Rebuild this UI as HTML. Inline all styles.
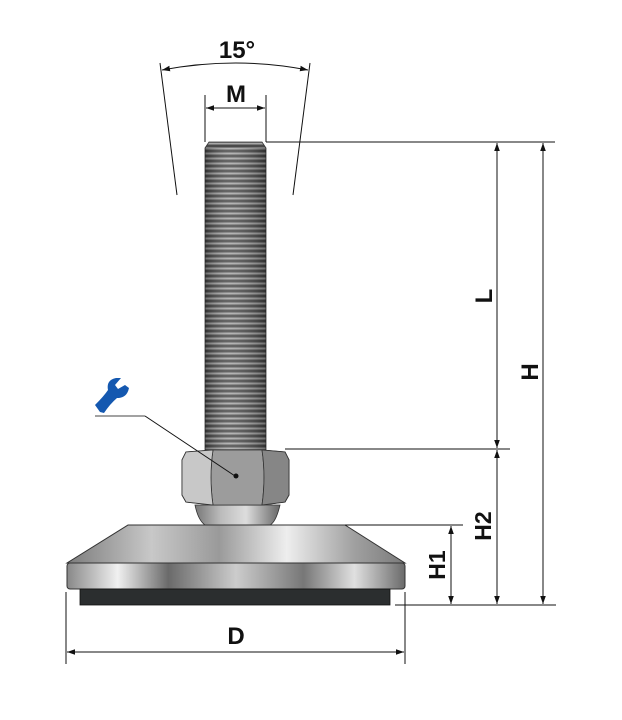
<!DOCTYPE html>
<html><head><meta charset="utf-8"><style>
html,body{margin:0;padding:0;background:#fff;}
svg{display:block;}
text{font-family:"Liberation Sans",sans-serif;font-weight:bold;fill:#111;}
</style></head><body>
<svg width="622" height="720" viewBox="0 0 622 720" xmlns="http://www.w3.org/2000/svg">
<defs>
<marker id="a" viewBox="0 0 10 10" refX="10" refY="5" markerWidth="8" markerHeight="8" orient="auto-start-reverse" markerUnits="userSpaceOnUse"><path d="M0,1.5 L10,5 L0,8.5 z" fill="#111"/></marker>
<pattern id="thr" width="8" height="5" patternUnits="userSpaceOnUse"><rect width="8" height="5" fill="#7a7a7a"/><rect y="0" width="8" height="2" fill="#4a4a4a"/><rect y="3" width="8" height="1" fill="#a8a8a8"/></pattern>
<linearGradient id="shade" x1="0" x2="1"><stop offset="0" stop-color="#777"/><stop offset="0.3" stop-color="#bbb"/><stop offset="0.6" stop-color="#ddd"/><stop offset="1" stop-color="#666"/></linearGradient>
<linearGradient id="plate" x1="0" x2="1"><stop offset="0" stop-color="#7c7c7c"/><stop offset="0.25" stop-color="#c8c8c8"/><stop offset="0.45" stop-color="#9a9a9a"/><stop offset="0.65" stop-color="#eeeeee"/><stop offset="0.85" stop-color="#a0a0a0"/><stop offset="1" stop-color="#7a7a7a"/></linearGradient>
<linearGradient id="rim" x1="0" x2="1"><stop offset="0" stop-color="#888"/><stop offset="0.15" stop-color="#f0f0f0"/><stop offset="0.3" stop-color="#6a6a6a"/><stop offset="0.5" stop-color="#ccc"/><stop offset="0.7" stop-color="#777"/><stop offset="0.85" stop-color="#e0e0e0"/><stop offset="1" stop-color="#6a6a6a"/></linearGradient>
<linearGradient id="thg" x1="0" x2="1"><stop offset="0" stop-color="#000" stop-opacity="0.35"/><stop offset="0.4" stop-color="#fff" stop-opacity="0.15"/><stop offset="1" stop-color="#000" stop-opacity="0.35"/></linearGradient>
</defs>

<path d="M205,148 L209,142 L262,142 L266,148 L266,450 L205,450 Z" fill="url(#thr)" stroke="#333" stroke-width="0.8"/>
<rect x="205" y="148" width="61" height="302" fill="url(#thg)"/>
<path d="M195,505 L280,505 Q276,522 270,525 L205,525 Q198,520 195,505 Z" fill="url(#shade)" stroke="#333" stroke-width="0.8"/>
<path d="M186,452 L213,450 L262,450 L285,452 L289,460 L289,495 L285,502 L262,505 L213,505 L186,502 L182,495 L182,460 Z" fill="#b0b0b0" stroke="#333" stroke-width="1"/>
<path d="M213,450 Q209,477 213,505 L262,505 Q266,477 262,450 Z" fill="#9c9c9c" stroke="#333" stroke-width="0.8"/>
<path d="M186,452 L213,450 Q209,477 213,505 L186,502 L182,495 L182,460 Z" fill="#c8c8c8" stroke="#333" stroke-width="0.8"/>
<path d="M262,450 L285,452 L289,460 L289,495 L285,502 L262,505 Q266,477 262,450 Z" fill="#868686" stroke="#333" stroke-width="0.8"/>
<path d="M128,525 L345,525 L405,563 L67,563 Z" fill="url(#plate)" stroke="#333" stroke-width="1"/>
<rect x="67" y="563" width="338" height="26" rx="3" fill="url(#rim)" stroke="#333" stroke-width="1"/>
<rect x="80" y="589" width="310" height="16" fill="#2b2e2f" stroke="#111" stroke-width="0.8"/>

<text x="237" y="58" font-size="24" text-anchor="middle">15°</text>
<line x1="160" y1="63" x2="177" y2="195" stroke="#111" stroke-width="1"/>
<line x1="310" y1="63" x2="293" y2="195" stroke="#111" stroke-width="1"/>
<path d="M162,70 Q236,56 308,70" fill="none" stroke="#111" stroke-width="1" marker-start="url(#a)" marker-end="url(#a)"/>

<text x="236" y="102" font-size="24" text-anchor="middle">M</text>
<line x1="205" y1="95" x2="205" y2="142" stroke="#111" stroke-width="1"/>
<line x1="266" y1="95" x2="266" y2="142" stroke="#111" stroke-width="1"/>
<line x1="206" y1="108" x2="265" y2="108" stroke="#111" stroke-width="1" marker-start="url(#a)" marker-end="url(#a)"/>

<line x1="266" y1="142" x2="555" y2="142" stroke="#111" stroke-width="1"/>
<line x1="285" y1="449" x2="510" y2="449" stroke="#111" stroke-width="1"/>
<line x1="345" y1="525" x2="463" y2="525" stroke="#111" stroke-width="1"/>
<line x1="395" y1="605" x2="556" y2="605" stroke="#111" stroke-width="1"/>

<line x1="497" y1="143" x2="497" y2="448" stroke="#111" stroke-width="1" marker-start="url(#a)" marker-end="url(#a)"/>
<text transform="translate(492,296) rotate(-90)" font-size="24" text-anchor="middle">L</text>
<line x1="543" y1="143" x2="543" y2="604" stroke="#111" stroke-width="1" marker-start="url(#a)" marker-end="url(#a)"/>
<text transform="translate(538,372) rotate(-90)" font-size="24" text-anchor="middle">H</text>
<line x1="497" y1="450" x2="497" y2="604" stroke="#111" stroke-width="1" marker-start="url(#a)" marker-end="url(#a)"/>
<text transform="translate(491,526) rotate(-90)" font-size="23" text-anchor="middle">H2</text>
<line x1="451" y1="526" x2="451" y2="604" stroke="#111" stroke-width="1" marker-start="url(#a)" marker-end="url(#a)"/>
<text transform="translate(445,565) rotate(-90)" font-size="23" text-anchor="middle">H1</text>

<line x1="66" y1="592" x2="66" y2="664" stroke="#111" stroke-width="1"/>
<line x1="405" y1="592" x2="405" y2="664" stroke="#111" stroke-width="1"/>
<line x1="67" y1="652" x2="404" y2="652" stroke="#111" stroke-width="1" marker-start="url(#a)" marker-end="url(#a)"/>
<text x="236" y="644" font-size="24" text-anchor="middle">D</text>

<path d="M100,412 L95,405 Q104,396 108,390 Q106,380 116,378 L121,378 L115,385 L118,389 L125,385 L129,388 Q127,398 117,398 Q110,404 104,413 Z" fill="#1458b0"/>
<line x1="95" y1="416" x2="145" y2="416" stroke="#444" stroke-width="1"/>
<line x1="145" y1="416" x2="235" y2="476" stroke="#111" stroke-width="1"/>
<circle cx="236" cy="476" r="2.5" fill="#111"/>
</svg>
</body></html>
